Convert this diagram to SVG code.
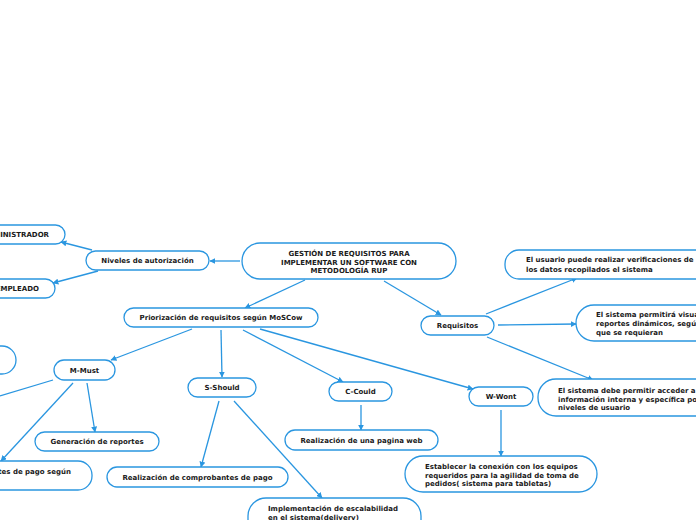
<svg xmlns="http://www.w3.org/2000/svg" width="696" height="520" viewBox="0 0 696 520">
<style>
.n{fill:#fff;stroke:#2a96e0;stroke-width:1.3}
.t{font-family:"DejaVu Sans",Verdana,sans-serif;font-weight:bold;font-size:7px;fill:#1a1a1a}
.c{text-anchor:middle}
.r{text-anchor:end}
.e{stroke:#2a96e0;stroke-width:1.3;fill:none;marker-end:url(#a)}
.e2{stroke:#2a96e0;stroke-width:1.3;fill:none}
</style>
<defs>
<marker id="a" viewBox="0 0 10 10" refX="9" refY="5" markerWidth="6" markerHeight="6" orient="auto" markerUnits="userSpaceOnUse">
<path d="M0,0 L10,5 L0,10 z" fill="#2a96e0"/>
</marker>
</defs>
<rect width="696" height="520" fill="#fff"/>
<g id="connectors">
<line class="e" x1="240" y1="261" x2="210" y2="261"/>
<line class="e" x1="92" y1="250" x2="61" y2="242"/>
<line class="e" x1="98" y1="271" x2="53" y2="283"/>
<line class="e" x1="305" y1="280" x2="245" y2="308"/>
<line class="e" x1="384" y1="281" x2="441" y2="315"/>
<line class="e" x1="486" y1="314" x2="577" y2="278"/>
<line class="e" x1="498" y1="325" x2="576" y2="324"/>
<line class="e" x1="487" y1="337" x2="593" y2="380"/>
<line class="e" x1="192" y1="329" x2="111" y2="360"/>
<line class="e" x1="221" y1="330" x2="222" y2="377"/>
<line class="e" x1="243" y1="330" x2="343" y2="382"/>
<line class="e" x1="260" y1="329" x2="473" y2="389"/>
<line class="e2" x1="53" y1="380" x2="0" y2="396"/>
<line class="e" x1="73" y1="383" x2="1" y2="461"/>
<line class="e" x1="87" y1="383" x2="95" y2="432"/>
<line class="e" x1="219" y1="401" x2="201" y2="467"/>
<line class="e" x1="234" y1="401" x2="322" y2="498"/>
<line class="e" x1="361" y1="405" x2="361" y2="430"/>
<line class="e" x1="501" y1="410" x2="501" y2="456"/>
</g>
<g id="root"><rect class="n" x="242" y="243" width="214" height="36" rx="18"/>
<text class="t c" x="349" y="256">GESTIÓN DE REQUISITOS PARA</text>
<text class="t c" x="349" y="264.5">IMPLEMENTAR UN SOFTWARE CON</text>
<text class="t c" x="349" y="273">METODOLOGÍA RUP</text></g>
<g id="niveles"><rect class="n" x="86" y="251" width="123" height="19" rx="9.5"/><text class="t c" x="147.5" y="263">Niveles de autorización</text></g>
<g id="admin"><rect class="n" x="-30" y="225" width="95" height="19" rx="9.5"/><text class="t r" x="49" y="237">ADMINISTRADOR</text></g>
<g id="empleado"><rect class="n" x="-30" y="279" width="85" height="19" rx="9.5"/><text class="t r" x="39" y="291">EMPLEADO</text></g>
<g id="prior"><rect class="n" x="124" y="308" width="194" height="19" rx="9.5"/><text class="t c" x="221" y="320">Priorización de requisitos según MoSCow</text></g>
<g id="requisitos"><rect class="n" x="421" y="316" width="73" height="19" rx="9.5"/><text class="t c" x="457.5" y="328">Requisitos</text></g>
<g id="usuario"><rect class="n" x="505" y="250" width="210" height="29" rx="14"/>
<text class="t" x="526" y="262">El usuario puede realizar verificaciones de</text>
<text class="t" x="526" y="271.5">los datos recopilados el sistema</text></g>
<g id="visual"><rect class="n" x="576" y="305" width="150" height="36" rx="18"/>
<text class="t" x="596" y="317">El sistema permitirá visualizar</text>
<text class="t" x="596" y="326">reportes dinámicos, según</text>
<text class="t" x="596" y="335">que se requieran</text></g>
<g id="acceder"><rect class="n" x="538" y="379" width="180" height="37" rx="18"/>
<text class="t" x="558" y="393">El sistema debe permitir acceder a</text>
<text class="t" x="558" y="401.5">información interna y específica por</text>
<text class="t" x="558" y="410">niveles de usuario</text></g>
<g id="left"><rect class="n" x="-40" y="346" width="56" height="28" rx="14"/></g>
<g id="must"><rect class="n" x="54" y="360" width="61" height="20" rx="10"/><text class="t c" x="84.5" y="373">M-Must</text></g>
<g id="should"><rect class="n" x="188" y="378" width="68" height="19" rx="9.5"/><text class="t c" x="222" y="390">S-Should</text></g>
<g id="could"><rect class="n" x="329" y="382" width="63" height="19" rx="9.5"/><text class="t c" x="360.5" y="394">C-Could</text></g>
<g id="wont"><rect class="n" x="469" y="387" width="64" height="19" rx="9.5"/><text class="t c" x="501" y="399">W-Wont</text></g>
<g id="reportes"><rect class="n" x="35" y="432" width="124" height="19" rx="9.5"/><text class="t c" x="97" y="444">Generación de reportes</text></g>
<g id="pagosegun"><rect class="n" x="-60" y="461" width="152" height="29" rx="14"/><text class="t r" x="71" y="474">Realización de comprobantes de pago según</text></g>
<g id="comprob"><rect class="n" x="107" y="467" width="181" height="20" rx="10"/><text class="t c" x="197.5" y="480">Realización de comprobantes de pago</text></g>
<g id="escal"><rect class="n" x="248" y="498" width="173" height="40" rx="18"/>
<text class="t" x="268" y="511">Implementación de escalabilidad</text>
<text class="t" x="268" y="520">en el sistema(delivery)</text></g>
<g id="web"><rect class="n" x="285" y="430" width="153" height="20" rx="10"/><text class="t c" x="361.5" y="443">Realización de una pagina web</text></g>
<g id="conexion"><rect class="n" x="405" y="456" width="192" height="36" rx="18"/>
<text class="t" x="425" y="469">Establecer la conexión con los equipos</text>
<text class="t" x="425" y="477.5">requeridos para la agilidad de toma de</text>
<text class="t" x="425" y="486">pedidos( sistema para tabletas)</text></g>
</svg>
